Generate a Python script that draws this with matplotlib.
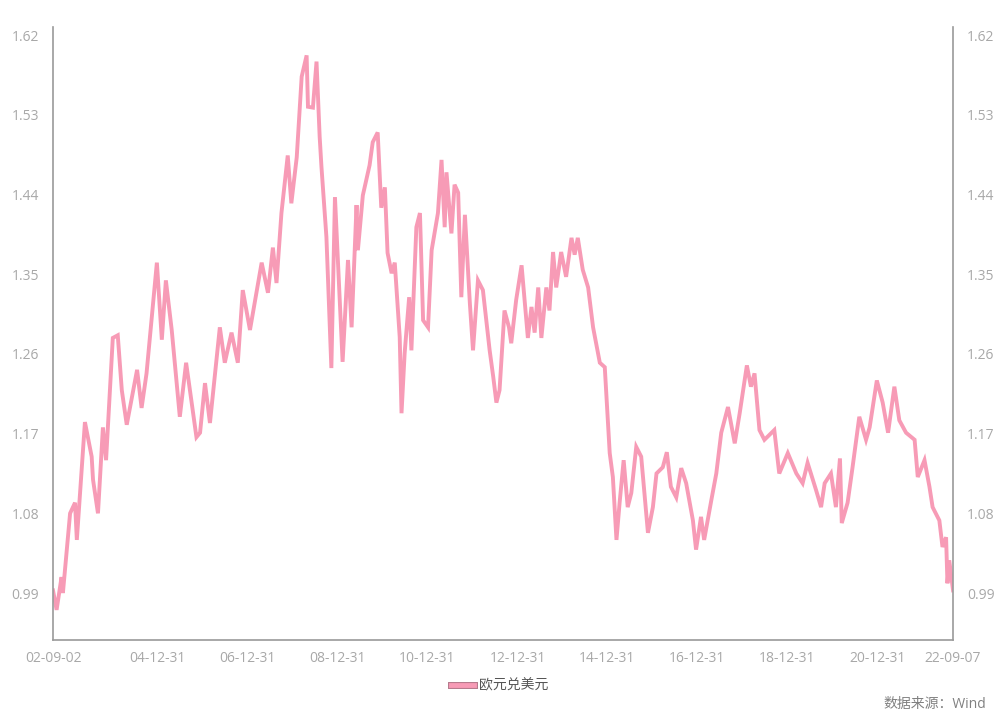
import matplotlib
matplotlib.use("Agg")
import matplotlib.pyplot as plt
import matplotlib.patheffects as pe
from matplotlib.lines import Line2D
import pandas as pd

plt.rcParams["font.family"] = ["Open Sans", "Noto Sans CJK SC", "DejaVu Sans"]

# 欧元兑美元，按图读取（时间用小数年表示）
years = [
    2002.67, 2002.75, 2002.86, 2002.89, 2003.05, 2003.16, 2003.20, 2003.38, 2003.53, 2003.56,
    2003.67, 2003.78, 2003.85, 2004.00, 2004.11, 2004.20, 2004.31, 2004.54, 2004.64, 2004.75,
    2004.98, 2005.09, 2005.18, 2005.31, 2005.49, 2005.63, 2005.86, 2005.94, 2006.05, 2006.16,
    2006.38, 2006.49, 2006.64, 2006.78, 2006.89, 2007.05, 2007.31, 2007.45, 2007.56, 2007.64,
    2007.75, 2007.89, 2007.97, 2008.09, 2008.20, 2008.31, 2008.34, 2008.45, 2008.53, 2008.60,
    2008.64, 2008.75, 2008.86, 2008.94, 2009.11, 2009.23, 2009.31, 2009.42, 2009.45, 2009.56,
    2009.71, 2009.78, 2009.89, 2009.97, 2010.05, 2010.11, 2010.20, 2010.27, 2010.38, 2010.42,
    2010.49, 2010.59, 2010.64, 2010.75, 2010.83, 2010.90, 2011.01, 2011.09, 2011.23, 2011.31,
    2011.38, 2011.42, 2011.53, 2011.60, 2011.68, 2011.75, 2011.83, 2011.94, 2012.01, 2012.12,
    2012.23, 2012.38, 2012.46, 2012.53, 2012.60, 2012.71, 2012.81, 2012.86, 2012.97, 2013.09,
    2013.23, 2013.31, 2013.38, 2013.46, 2013.53, 2013.64, 2013.71, 2013.79, 2013.86, 2013.97,
    2014.08, 2014.20, 2014.27, 2014.34, 2014.45, 2014.57, 2014.68, 2014.83, 2014.94, 2015.05,
    2015.12, 2015.20, 2015.27, 2015.36, 2015.45, 2015.53, 2015.64, 2015.75, 2015.90, 2016.01,
    2016.09, 2016.23, 2016.32, 2016.41, 2016.53, 2016.64, 2016.75, 2016.90, 2016.97, 2017.08,
    2017.15, 2017.31, 2017.42, 2017.53, 2017.68, 2017.83, 2017.94, 2018.05, 2018.10, 2018.19,
    2018.27, 2018.38, 2018.49, 2018.71, 2018.82, 2019.01, 2019.20, 2019.34, 2019.45, 2019.64,
    2019.75, 2019.83, 2019.97, 2020.08, 2020.17, 2020.21, 2020.34, 2020.45, 2020.60, 2020.75,
    2020.83, 2020.99, 2021.12, 2021.24, 2021.38, 2021.49, 2021.64, 2021.83, 2021.90, 2022.05,
    2022.16, 2022.23, 2022.38, 2022.45, 2022.53, 2022.56, 2022.60, 2022.685,
]
eurusd = [
    0.993, 0.971, 1.008, 0.990, 1.080, 1.092, 1.050, 1.183, 1.144, 1.118,
    1.080, 1.177, 1.140, 1.278, 1.281, 1.219, 1.180, 1.242, 1.199, 1.238,
    1.363, 1.276, 1.343, 1.287, 1.189, 1.250, 1.166, 1.171, 1.227, 1.182,
    1.290, 1.250, 1.284, 1.250, 1.332, 1.287, 1.363, 1.329, 1.380, 1.340,
    1.419, 1.484, 1.430, 1.482, 1.573, 1.597, 1.539, 1.538, 1.590, 1.505,
    1.471, 1.392, 1.244, 1.437, 1.251, 1.366, 1.290, 1.428, 1.377, 1.439,
    1.473, 1.499, 1.510, 1.425, 1.448, 1.374, 1.351, 1.363, 1.279, 1.193,
    1.261, 1.324, 1.264, 1.403, 1.419, 1.298, 1.290, 1.377, 1.419, 1.479,
    1.403, 1.465, 1.396, 1.451, 1.442, 1.324, 1.417, 1.317, 1.264, 1.343,
    1.332, 1.264, 1.234, 1.205, 1.219, 1.309, 1.290, 1.272, 1.321, 1.360,
    1.278, 1.313, 1.284, 1.335, 1.278, 1.335, 1.309, 1.375, 1.335, 1.375,
    1.347, 1.391, 1.372, 1.391, 1.355, 1.335, 1.290, 1.250, 1.245, 1.148,
    1.121, 1.050, 1.092, 1.140, 1.087, 1.103, 1.155, 1.144, 1.058, 1.087,
    1.125, 1.132, 1.149, 1.110, 1.098, 1.131, 1.114, 1.072, 1.039, 1.076,
    1.050, 1.095, 1.125, 1.171, 1.200, 1.159, 1.193, 1.230, 1.247, 1.223,
    1.238, 1.174, 1.163, 1.174, 1.125, 1.148, 1.125, 1.114, 1.137, 1.106,
    1.087, 1.114, 1.125, 1.087, 1.142, 1.069, 1.092, 1.132, 1.189, 1.163,
    1.177, 1.230, 1.205, 1.171, 1.223, 1.185, 1.171, 1.163, 1.121, 1.140,
    1.110, 1.087, 1.072, 1.042, 1.053, 1.001, 1.027, 0.993,
]

y_ticks = [0.99, 1.08, 1.17, 1.26, 1.35, 1.44, 1.53, 1.62]
x_tick_dates = ["2002-09-02", "2004-12-31", "2006-12-31", "2008-12-31", "2010-12-31",
                "2012-12-31", "2014-12-31", "2016-12-31", "2018-12-31", "2020-12-31",
                "2022-09-07"]
x_tick_labels = ["02-09-02", "04-12-31", "06-12-31", "08-12-31", "10-12-31",
                 "12-12-31", "14-12-31", "16-12-31", "18-12-31", "20-12-31",
                 "22-09-07"]

LINE_COLOR = "#f79bb6"
AXIS_COLOR = "#9a9a9a"
TICK_COLOR = "#a8a8a8"


def to_dates(yrs):
    base = pd.Timestamp("2002-09-02")
    return [base + pd.Timedelta(days=(y - 2002.67) * 365.25) for y in yrs]


dates = to_dates(years)

fig = plt.figure(figsize=(10, 7.17), dpi=100)
fig.patch.set_facecolor("white")
ax = fig.add_axes([0.053, 0.1074, 0.900, 0.8549])

ax.plot(dates, eurusd, color=LINE_COLOR, linewidth=2.8, solid_joinstyle="miter")

ax.set_xlim(pd.Timestamp("2002-09-02"), pd.Timestamp("2022-09-07"))
ax.set_ylim(0.937, 1.629)

ax.set_yticks(y_ticks)
ax.set_yticklabels([f"{v:.2f}" for v in y_ticks])
ax.set_xticks(pd.to_datetime(x_tick_dates))
ax.set_xticklabels(x_tick_labels)

ax.tick_params(axis="both", length=0, colors=TICK_COLOR, labelsize=10)
ax.tick_params(axis="y", pad=10, labelright=True)
ax.tick_params(axis="x", pad=8)

for side in ["left", "right", "bottom"]:
    ax.spines[side].set_color(AXIS_COLOR)
    ax.spines[side].set_linewidth(1.2)
ax.spines["top"].set_visible(False)

handle = Line2D([], [], color=LINE_COLOR, linewidth=3.5,
                path_effects=[pe.Stroke(linewidth=5, foreground="#b4788a"), pe.Normal()])
fig.legend([handle], ["欧元兑美元"], loc="center", bbox_to_anchor=(0.5, 0.043),
           frameon=False, fontsize=10, labelcolor="#555555",
           handlelength=1.6, handletextpad=0.4)

fig.text(0.986, 0.018, "数据来源：Wind", ha="right", va="center",
         fontsize=10, color="#808080")

fig.savefig("out.png", dpi=100, facecolor=fig.get_facecolor())
